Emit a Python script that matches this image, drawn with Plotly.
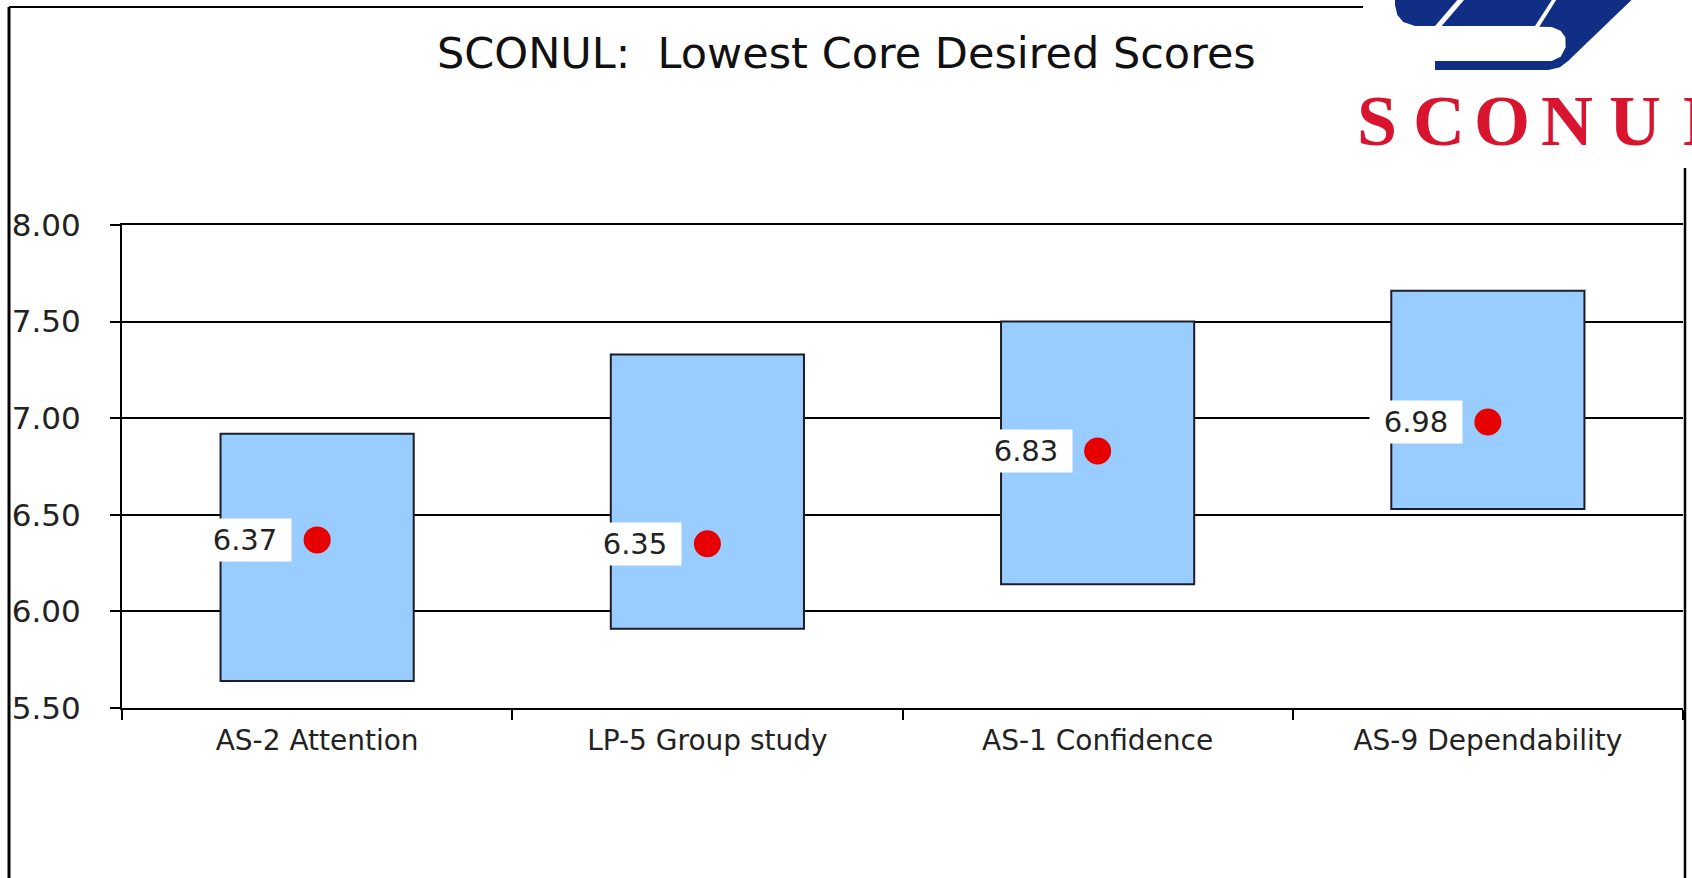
import plotly.graph_objects as go

# ---------------- data ----------------
categories = ["AS-2 Attention", "LP-5 Group study", "AS-1 Confidence", "AS-9 Dependability"]
range_low = [5.64, 5.91, 6.14, 6.53]
range_high = [6.92, 7.33, 7.50, 7.66]
desired_mean = [6.37, 6.35, 6.83, 6.98]
y_ticks = [5.50, 6.00, 6.50, 7.00, 7.50, 8.00]
title_text = "SCONUL:  Lowest Core Desired Scores"
logo_letters = ["S", "C", "O", "N", "U", "L"]

# ---------------- geometry helpers (decoration only) ----------------
W, H = 1692, 878
L, R, T, B = 122, 1683, 225, 708


def px(x):
    return (x - L) / (R - L)


def py(y):
    return (B - y) / (B - T)


def poly(points_zoom):
    # logo outline points in logo-local units (1/3 px, offset 1300 px)
    pts = [(x / 3 + 1300, y / 3) for x, y in points_zoom]
    return "M " + " L ".join(f"{px(x):.5f},{py(y):.5f}" for x, y in pts) + " Z"


fig = go.Figure()

fig.add_trace(go.Bar(
    x=categories,
    y=[h - l for h, l in zip(range_high, range_low)],
    base=range_low,
    width=0.495,
    marker=dict(color="#99CCFF", line=dict(color="#1C1C2A", width=2)),
    hoverinfo="skip",
    showlegend=False,
))

fig.add_trace(go.Scatter(
    x=categories,
    y=desired_mean,
    mode="markers",
    marker=dict(color="#E60000", size=27, line=dict(width=0)),
    showlegend=False,
))

for c, v in zip(categories, desired_mean):
    fig.add_annotation(
        x=c, y=v, xref="x", yref="y",
        text=f"{v:.2f}", showarrow=False,
        xanchor="right", yanchor="middle", xshift=-25,
        bgcolor="white", width=84, height=34, borderpad=4,
        font=dict(family="DejaVu Sans", size=29, color="#222222"),
    )

# title
fig.add_annotation(
    x=px(846), y=py(53), xref="paper", yref="paper",
    text=title_text, showarrow=False,
    xanchor="center", yanchor="middle",
    font=dict(family="DejaVu Sans", size=43, color="#111111"),
)

shapes = []
# outer frame (partly hidden behind logo)
shapes.append(dict(type="line", xref="paper", yref="paper", x0=px(9), x1=px(9), y0=py(7), y1=py(900),
                   line=dict(color="black", width=3)))
shapes.append(dict(type="line", xref="paper", yref="paper", x0=px(9), x1=px(1363), y0=py(7), y1=py(7),
                   line=dict(color="black", width=2)))
shapes.append(dict(type="line", xref="paper", yref="paper", x0=px(1685), x1=px(1685), y0=py(168), y1=py(900),
                   line=dict(color="black", width=2.5)))

# logo (blue page shape)
blue = "#112E85"
logo_left = [(285, -15), (485, -15), (405, 78), (345, 78), (310, 66), (292, 45), (285, 15)]
logo_mid = [(505, -15), (765, -15), (705, 78), (425, 78)]
logo_right = [(778, -15), (1010, -15), (805, 182), (780, 202), (745, 210), (405, 210), (405, 183),
              (755, 183), (782, 170), (797, 142), (796, 112), (782, 92), (755, 81), (718, 80)]
for pts in (logo_left, logo_mid, logo_right):
    shapes.append(dict(type="path", xref="paper", yref="paper", path=poly(pts),
                       fillcolor=blue, line=dict(width=0), layer="above"))

fig.update_layout(shapes=shapes)

letter_x = [1377, 1439, 1502, 1567, 1635, 1681]
letter_anchor = ["center", "center", "center", "center", "center", "left"]
for ch, lx, anc in zip(logo_letters, letter_x, letter_anchor):
    fig.add_annotation(
        x=px(lx), y=py(121), xref="paper", yref="paper",
        text=ch, showarrow=False, xanchor=anc, yanchor="middle",
        font=dict(family="Liberation Serif", size=72, color="#D8142E", weight=700),
    )

fig.update_layout(
    width=W, height=H,
    margin=dict(l=L, r=W - R, t=T, b=H - B, autoexpand=False),
    paper_bgcolor="white",
    plot_bgcolor="white",
    showlegend=False,
    xaxis=dict(
        type="category",
        range=[-0.5, 3.5],
        tickson="boundaries",
        ticks="outside", ticklen=10, tickwidth=1.5, tickcolor="black",
        showline=True, linecolor="black", linewidth=2, mirror=True,
        showgrid=False, zeroline=False,
        tickfont=dict(family="DejaVu Sans", size=28, color="#222222"),
        ticklabelstandoff=6,
        fixedrange=True,
    ),
    yaxis=dict(
        range=[5.5, 8.0],
        tickvals=y_ticks,
        tickformat=".2f",
        ticks="outside", ticklen=10, tickwidth=1.5, tickcolor="black",
        showline=True, linecolor="black", linewidth=2,
        showgrid=True, gridcolor="black", gridwidth=1.5,
        zeroline=False,
        tickfont=dict(family="DejaVu Sans", size=31, color="#222222"),
        ticklabelstandoff=23,
        fixedrange=True,
    ),
)

fig.write_html(
    "out.html",
    config={"displayModeBar": False},
    post_script="document.body.style.margin='0';document.body.style.overflow='hidden';",
)
